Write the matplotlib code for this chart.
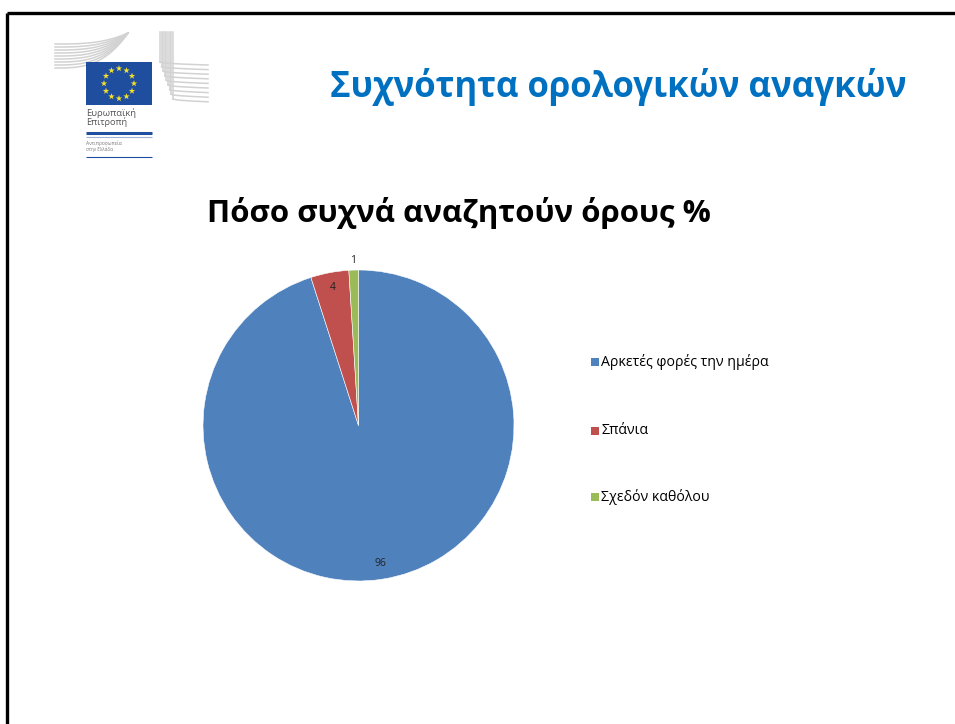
import numpy as np
import matplotlib
matplotlib.use("Agg")
import matplotlib.pyplot as plt
from matplotlib.patches import Rectangle

plt.rcParams['font.family'] = ['Open Sans', 'DejaVu Sans']

# survey data
categories = ['Αρκετές φορές την ημέρα', 'Σπάνια', 'Σχεδόν καθόλου']
shares = [96, 4, 1]
colors = ['#4F81BD', '#C0504D', '#9BBB59']
label_radius = [0.90, 0.90, 1.06]

slide_title = 'Συχνότητα ορολογικών αναγκών'
chart_title = 'Πόσο συχνά αναζητούν όρους %'

W, H = 955, 724


def fit_text(ax, x, y, s, width, **kw):
    # scale the font so the string spans `width` pixels
    t = ax.text(x, y, s, fontsize=10, **kw)
    r = ax.figure.canvas.get_renderer()
    w = t.get_window_extent(renderer=r).width
    t.set_fontsize(10 * width / w)
    return t


fig = plt.figure(figsize=(W / 100, H / 100), dpi=100)
fig.patch.set_facecolor('white')

bg = fig.add_axes([0, 0, 1, 1])
bg.set_xlim(0, W)
bg.set_ylim(H, 0)
bg.axis('off')

# slide frame
bg.plot([7, W], [12.5, 12.5], color='black', lw=2.4, solid_capstyle='butt')
bg.plot([7, 7], [12.5, H], color='black', lw=2.4, solid_capstyle='butt')

# --- logo: building outline ---
grey = '#D2D2D2'
for k in range(9):
    y0 = 44 + k * 3.0
    xs = np.linspace(55, 128, 60)
    t = (xs - 55) / 73
    ys = y0 - (y0 - 33) * t ** 3
    bg.plot(xs, ys, color=grey, lw=1.1)
for k in range(9):
    x0 = 160 + k * 1.6
    yb = 62 + k * 4.6
    ys = np.linspace(32, yb, 30)
    bg.plot(np.full_like(ys, x0), ys, color=grey, lw=1.1)
    xs = np.linspace(x0, 208, 40)
    t = (xs - x0) / (208 - x0)
    bg.plot(xs, yb + 3 * np.sqrt(t), color=grey, lw=1.1)

# flag
bg.add_patch(Rectangle((86, 62), 66, 43, facecolor='#1F4E9E', edgecolor='none', zorder=3))
ang = np.linspace(0, 2 * np.pi, 13)[:-1]
bg.scatter(119 + 15 * np.cos(ang), 83.5 + 15 * np.sin(ang), marker='*', s=24,
           color='#F5E12A', edgecolors='none', zorder=4)

fit_text(bg, 86, 113, 'Ευρωπαϊκή', 50, color='#555555', va='center', ha='left')
fit_text(bg, 86, 122, 'Επιτροπή', 41, color='#555555', va='center', ha='left')
bg.plot([86, 152], [133, 133], color='#1F4E9E', lw=2.2, solid_capstyle='butt')
bg.plot([86, 152], [136.5, 136.5], color='#9DB3D6', lw=0.8, solid_capstyle='butt')
fit_text(bg, 86, 143, 'Αντιπροσωπεία', 36, color='#777777', va='center', ha='left')
fit_text(bg, 86, 149, 'στην Ελλάδα', 27, color='#777777', va='center', ha='left')
bg.plot([86, 152], [157, 157], color='#1F4E9E', lw=0.8, solid_capstyle='butt')

# titles
fit_text(bg, 330, 87, slide_title, 578, color='#0070C0', fontweight='bold',
         va='center', ha='left')
fit_text(bg, 207, 213, chart_title, 505, color='black', fontweight='bold',
         va='center', ha='left')

# --- pie ---
cx, cy, rad = 358.5, 425.5, 155.5
ax = fig.add_axes([(cx - rad) / W, (H - cy - rad) / H, 2 * rad / W, 2 * rad / H])
wedges, _ = ax.pie(shares, colors=colors, startangle=90, counterclock=False,
                   radius=1, wedgeprops=dict(edgecolor='white', linewidth=0.4))
ax.set_xlim(-1, 1)
ax.set_ylim(-1, 1)
ax.set_aspect('equal')
ax.axis('off')

for w, v, r in zip(wedges, shares, label_radius):
    mid = np.deg2rad((w.theta1 + w.theta2) / 2)
    ax.text(r * np.cos(mid), r * np.sin(mid), str(v), ha='center', va='center',
            fontsize=7.5, color='#222222', clip_on=False)

# legend
legend_y = [362, 431, 497]
legend_font = None
for name, c, ly in zip(categories, colors, legend_y):
    bg.add_patch(Rectangle((591, ly - 4), 8, 8, facecolor=c, edgecolor='none'))
    if legend_font is None:
        t = fit_text(bg, 601, ly, name, 168, color='black', va='center', ha='left')
        legend_font = t.get_fontsize()
    else:
        bg.text(601, ly, name, fontsize=legend_font, color='black', va='center', ha='left')

fig.savefig('out.png', dpi=100)
